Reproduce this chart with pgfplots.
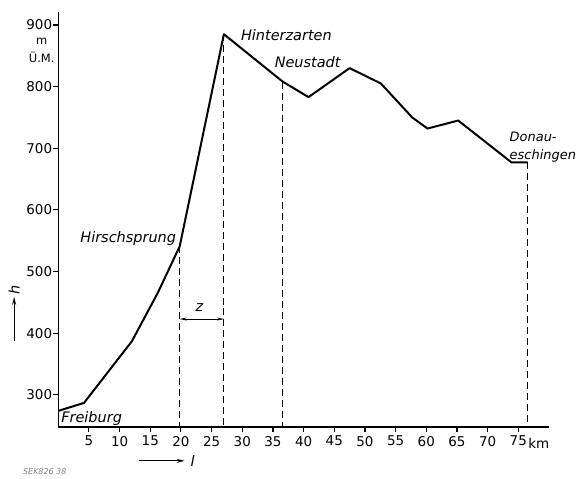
\documentclass[border=0pt]{standalone}
\usepackage{fontspec}
\setmainfont{DejaVu Sans}
\usepackage{pgfplots}
\pgfplotsset{compat=1.18}
\usetikzlibrary{arrows.meta}

\begin{document}
\begin{tikzpicture}
\begin{axis}[
    scale only axis,
    width=492pt, height=416pt,
    xmin=0, xmax=80,
    ymin=248, ymax=921,
    axis x line*=bottom,
    axis y line*=left,
    axis line style={line width=1.4pt},
    xtick={5,10,...,75},
    ytick={300,400,...,900},
    tick align=outside,
    major tick length=5pt,
    tick style={line width=1.1pt, black},
    ticklabel style={font=\fontsize{13.5}{15}\selectfont},
    yticklabel style={inner sep=1pt},
    xticklabel style={inner sep=4pt},
    /pgf/number format/assume math mode=true,
    clip=false,
]
% bounding box matching the reference
\path (axis cs:-9.5,940.5) rectangle (axis cs:84.3,168.7);

% height profile
\addplot[black, line width=2pt, line join=round] coordinates {
    (0,274) (4.2,287) (12,387) (16.2,465) (19.8,541) (27.0,885)
    (36.6,808) (40.8,783) (47.5,830) (52.6,805) (57.7,750) (60.2,732)
    (65.2,745) (73.9,677) (76.5,677)
};

% dashed verticals
\addplot[black, line width=0.8pt, dash pattern=on 7pt off 4pt] coordinates {(19.8,541) (19.8,248)};
\addplot[black, line width=0.8pt, dash pattern=on 7pt off 4pt] coordinates {(27.0,885) (27.0,248)};
\addplot[black, line width=0.8pt, dash pattern=on 7pt off 4pt] coordinates {(36.6,808) (36.6,248)};
\addplot[black, line width=0.8pt, dash pattern=on 7pt off 4pt] coordinates {(76.5,677) (76.5,248)};

% z arrow
\addplot[black, line width=0.8pt, {Stealth[length=7pt,width=3pt]}-{Stealth[length=7pt,width=3pt]}] coordinates {(19.8,423) (27.0,423)};
\node[font=\fontsize{14.5}{16}\selectfont\itshape] at (axis cs:23.0,441) {z};

% place names
\node[anchor=east, font=\fontsize{14.5}{16}\selectfont\itshape, inner sep=1pt] at (axis cs:19.4,553) {Hirschsprung};
\node[anchor=west, font=\fontsize{14.5}{16}\selectfont\itshape, inner sep=1pt] at (axis cs:29.6,884) {Hinterzarten};
\node[anchor=west, font=\fontsize{14.5}{16}\selectfont\itshape, inner sep=1pt] at (axis cs:35.1,839) {Neustadt};
\node[anchor=west, font=\fontsize{13}{15}\selectfont\itshape, inner sep=1pt] at (axis cs:73.4,719) {Donau-};
\node[anchor=west, font=\fontsize{13}{15}\selectfont\itshape, inner sep=1pt] at (axis cs:73.4,687) {eschingen};
\node[anchor=west, font=\fontsize{14.5}{16}\selectfont\itshape, inner sep=1pt] at (axis cs:0.3,262) {Freiburg};

% unit labels
\node[anchor=west, font=\fontsize{13.5}{15}\selectfont, inner sep=0pt] at (axis cs:76.6,222) {km};
\node[font=\fontsize{11.5}{13}\selectfont] at (axis cs:-2.7,873) {m};
\node[font=\fontsize{11.5}{13}\selectfont] at (axis cs:-2.7,848) {Ü.M.};

% axis variable labels
\draw[line width=1pt, -{Stealth[length=8pt,width=4pt]}] (axis cs:-7.2,387) -- (axis cs:-7.2,459);
\node[rotate=90, font=\fontsize{14.5}{16}\selectfont\itshape] at (axis cs:-7.2,470) {h};
\draw[line width=1pt, -{Stealth[length=8pt,width=4pt]}] (axis cs:13.1,193) -- (axis cs:20.6,193);
\node[font=\fontsize{14.5}{16}\selectfont\itshape] at (axis cs:21.9,193) {l};

\node[anchor=west, text=gray, font=\fontsize{8}{9}\selectfont\itshape] at (axis cs:-6.3,175) {SEK826 38};
\end{axis}
\end{tikzpicture}
\end{document}
